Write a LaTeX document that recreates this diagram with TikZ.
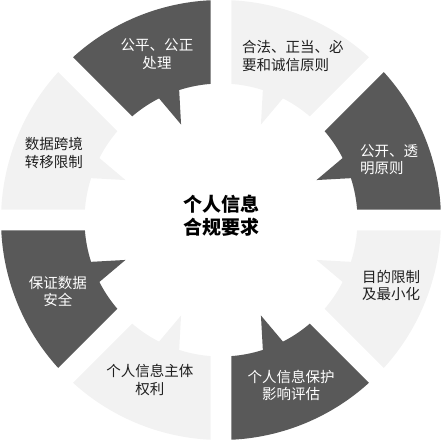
\documentclass[tikz,border=0pt]{standalone}
\usepackage{fontspec}
\setmainfont{Noto Sans CJK SC}
\definecolor{segdark}{HTML}{595959}
\definecolor{seglight}{HTML}{F2F2F2}
\definecolor{txtdark}{HTML}{1F1F1F}
\newcommand{\ringseg}[4]{%
  \pgfmathsetmacro\rsA{#1+4.41}%
  \pgfmathsetmacro\rsB{#1+2.735}%
  \pgfmathsetmacro\rsC{#2-2.735}%
  \pgfmathsetmacro\rsD{#2-4.41}%
  \pgfmathsetmacro\rsP{(#3)>0 ? #1 : #2}%
  \pgfmathsetmacro\rsNear{\rsP+(#3)*17.85}%
  \pgfmathsetmacro\rsTip{\rsP+(#3)*22.7}%
  \pgfmathsetmacro\rsFar{\rsP+(#3)*27}%
  \pgfmathsetmacro\rsHi{max(\rsNear,\rsFar)}%
  \pgfmathsetmacro\rsLo{min(\rsNear,\rsFar)}%
  \path[#4] (\rsA:136.5pt) -- (\rsB:220pt)
    arc[start angle=\rsB, end angle=\rsC, radius=220pt]
    -- (\rsD:136.5pt)
    arc[start angle=\rsD, end angle=\rsHi, radius=136.5pt]
    -- (\rsTip:103.5pt) -- (\rsLo:136.5pt)
    arc[start angle=\rsLo, end angle=\rsA, radius=136.5pt] -- cycle;
}
\tikzset{
  darkseg/.style={fill=segdark},
  lightseg/.style={fill=seglight},
  segtxt/.style={font=\fontsize{14.5}{17.5}\selectfont, align=center, inner sep=0pt},
  darktxt/.style={segtxt, text=white},
  lighttxt/.style={segtxt, text=txtdark},
  centertxt/.style={font=\fontsize{19}{23}\selectfont\bfseries, align=center, inner sep=0pt, text=black}
}
\begin{document}
\begin{tikzpicture}[x=1pt,y=1pt]
\useasboundingbox (-221,-221) rectangle (222,220);
\ringseg{0}{45}{1}{darkseg}
\ringseg{45}{90}{-1}{lightseg}
\ringseg{90}{135}{1}{darkseg}
\ringseg{135}{180}{-1}{lightseg}
\ringseg{180}{225}{1}{darkseg}
\ringseg{225}{270}{-1}{lightseg}
\ringseg{270}{315}{1}{darkseg}
\ringseg{315}{360}{-1}{lightseg}
\node[darktxt] (fair) at (-64,166) {公平、公正\\处理};
\node[lighttxt, anchor=west, align=left] (legal) at (21,164) {合法、正当、必\\要和诚信原则};
\node[darktxt, anchor=west, align=left] (open) at (139,60.5) {公开、透\\明原则};
\node[lighttxt] (purpose) at (170,-65.5) {目的限制\\及最小化};
\node[darktxt] (impact) at (70,-165.5) {个人信息保护\\影响评估};
\node[lighttxt] (rights) at (-71,-160) {个人信息主体\\权利};
\node[darktxt] (security) at (-163,-71.5) {保证数据\\安全};
\node[lighttxt] (transfer) at (-167,67) {数据跨境\\转移限制};
\node[centertxt] (core) at (0.5,4.5) {个人信息\\合规要求};
\end{tikzpicture}
\end{document}
